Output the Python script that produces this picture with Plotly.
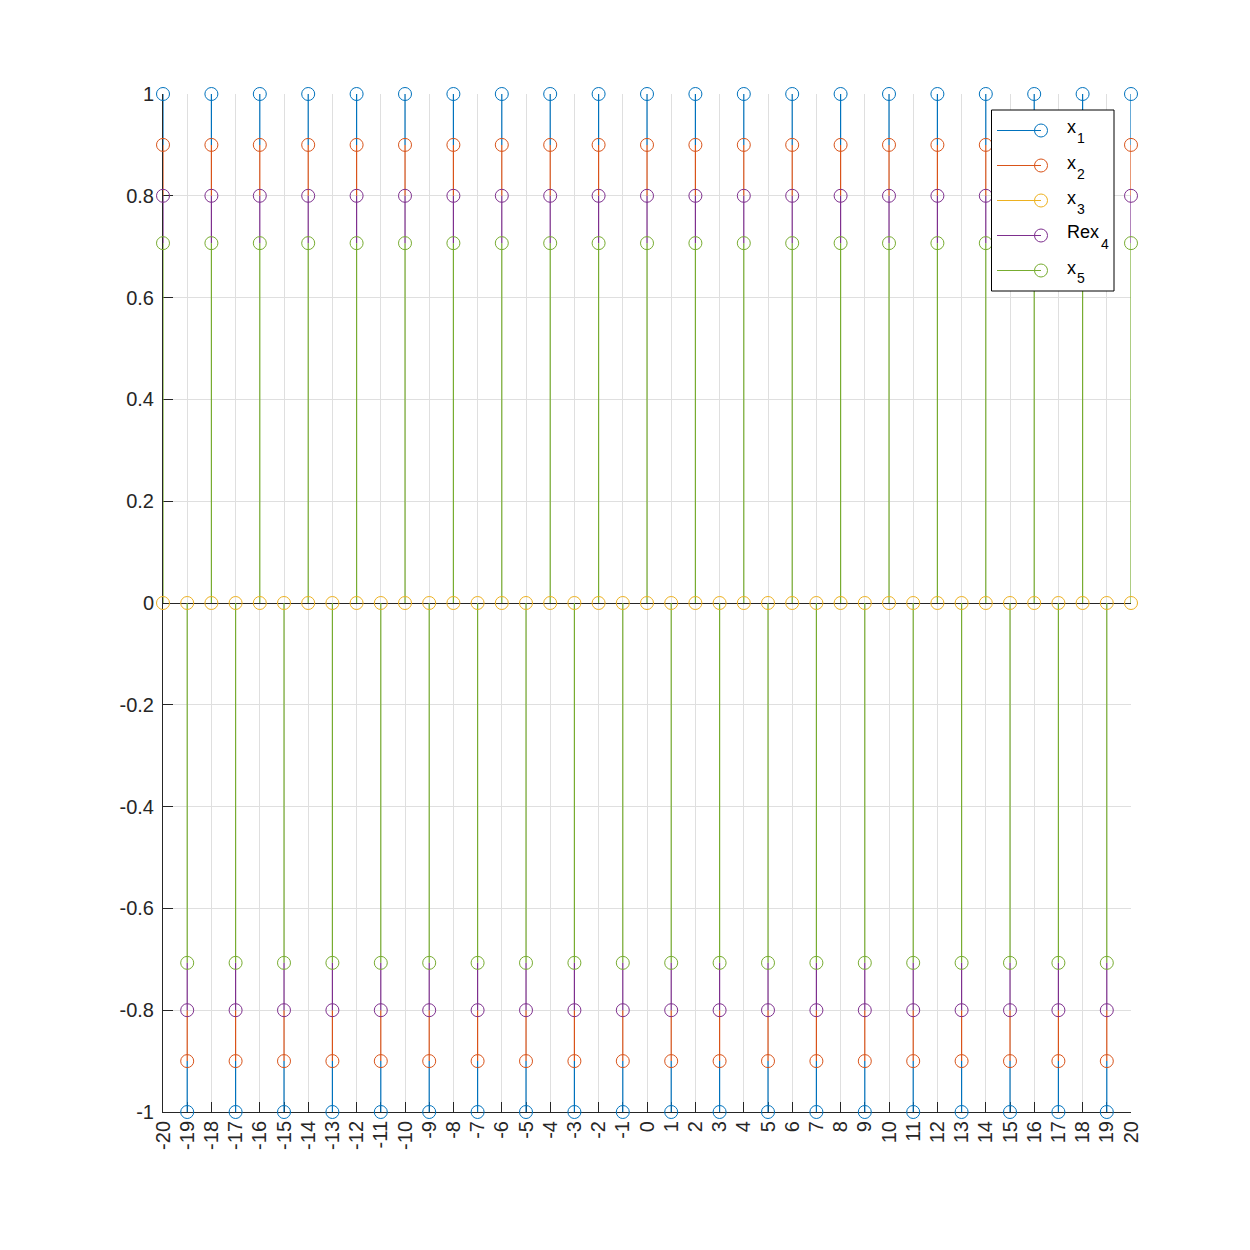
import plotly.graph_objects as go

# ---------------- data ----------------
n = [-20, -19, -18, -17, -16, -15, -14, -13, -12, -11,
     -10, -9, -8, -7, -6, -5, -4, -3, -2, -1,
     0, 1, 2, 3, 4, 5, 6, 7, 8, 9,
     10, 11, 12, 13, 14, 15, 16, 17, 18, 19, 20]

x1 = [1, -1, 1, -1, 1, -1, 1, -1, 1, -1,
      1, -1, 1, -1, 1, -1, 1, -1, 1, -1,
      1, -1, 1, -1, 1, -1, 1, -1, 1, -1,
      1, -1, 1, -1, 1, -1, 1, -1, 1, -1,
      1]
x2 = [0.9, -0.9, 0.9, -0.9, 0.9, -0.9, 0.9, -0.9, 0.9, -0.9,
      0.9, -0.9, 0.9, -0.9, 0.9, -0.9, 0.9, -0.9, 0.9, -0.9,
      0.9, -0.9, 0.9, -0.9, 0.9, -0.9, 0.9, -0.9, 0.9, -0.9,
      0.9, -0.9, 0.9, -0.9, 0.9, -0.9, 0.9, -0.9, 0.9, -0.9,
      0.9]
x3 = [0, 0, 0, 0, 0, 0, 0, 0, 0, 0,
      0, 0, 0, 0, 0, 0, 0, 0, 0, 0,
      0, 0, 0, 0, 0, 0, 0, 0, 0, 0,
      0, 0, 0, 0, 0, 0, 0, 0, 0, 0,
      0]
rex4 = [0.8, -0.8, 0.8, -0.8, 0.8, -0.8, 0.8, -0.8, 0.8, -0.8,
        0.8, -0.8, 0.8, -0.8, 0.8, -0.8, 0.8, -0.8, 0.8, -0.8,
        0.8, -0.8, 0.8, -0.8, 0.8, -0.8, 0.8, -0.8, 0.8, -0.8,
        0.8, -0.8, 0.8, -0.8, 0.8, -0.8, 0.8, -0.8, 0.8, -0.8,
        0.8]
x5 = [0.707, -0.707, 0.707, -0.707, 0.707, -0.707, 0.707, -0.707, 0.707, -0.707,
      0.707, -0.707, 0.707, -0.707, 0.707, -0.707, 0.707, -0.707, 0.707, -0.707,
      0.707, -0.707, 0.707, -0.707, 0.707, -0.707, 0.707, -0.707, 0.707, -0.707,
      0.707, -0.707, 0.707, -0.707, 0.707, -0.707, 0.707, -0.707, 0.707, -0.707,
      0.707]

legend_base = ["x", "x", "x", "Rex", "x"]
legend_sub = ["1", "2", "3", "4", "5"]
series_values = [x1, x2, x3, rex4, x5]
series_colors = ["#0072BD", "#D95319", "#EDB120", "#7E2F8E", "#77AC30"]

ytick_vals = [-1, -0.8, -0.6, -0.4, -0.2, 0, 0.2, 0.4, 0.6, 0.8, 1]
ytick_text = ["-1", "-0.8", "-0.6", "-0.4", "-0.2", "0", "0.2", "0.4", "0.6", "0.8", "1"]
xtick_text = [str(v) for v in n]

# ---------------- layout geometry ----------------
W, H = 1250, 1250
L, R, T, B = 163, 119, 94, 138
PW, PH = W - L - R, H - T - B
FONT = "Liberation Sans, Arial, Helvetica, sans-serif"
AXC = "#262626"
TICK_SIZE = 20


def px(xp):
    return (xp - L) / PW


def py(yp):
    return (H - B - yp) / PH


fig = go.Figure()

# stems: only the part of each stem not hidden by later-drawn stems
nser = len(series_values)
for i, (vals, col) in enumerate(zip(series_values, series_colors)):
    sx, sy = [], []
    for k, (xi, vi) in enumerate(zip(n, vals)):
        if vi == 0:
            continue
        later = [series_values[j][k] for j in range(i + 1, nser)]
        same = [abs(w) for w in later if w * vi > 0]
        if any(a >= abs(vi) for a in same):
            continue
        lo = max(same) if same else 0.0
        sgn = 1 if vi > 0 else -1
        sx += [xi, xi, None]
        sy += [sgn * lo, vi, None]
    fig.add_trace(go.Scatter(x=sx, y=sy, mode="lines",
                             line=dict(color=col, width=1.2),
                             showlegend=False, hoverinfo="skip",
                             cliponaxis=False))
for i, (vals, col) in enumerate(zip(series_values, series_colors)):
    fig.add_trace(go.Scatter(x=n, y=vals, mode="markers",
                             name=legend_base[i] + legend_sub[i],
                             marker=dict(symbol="circle-open", size=13,
                                         color=col, line=dict(width=1, color=col)),
                             showlegend=False, cliponaxis=False))

# ---------------- custom MATLAB-style legend ----------------
shapes = []
annotations = []
box_l, box_r, box_t, box_b = 991.5, 1114, 110, 291
shapes.append(dict(type="rect", xref="paper", yref="paper",
                   x0=px(box_l), x1=px(box_r), y0=py(box_b), y1=py(box_t),
                   line=dict(color="#000000", width=1), fillcolor="white",
                   layer="above"))
entry_y = [130.5, 165.5, 200.5, 235.5, 270.5]
sub_x = {"x": 1075, "Rex": 1099}
for base, sub, col, ey in zip(legend_base, legend_sub, series_colors, entry_y):
    shapes.append(dict(type="line", xref="paper", yref="paper",
                       x0=px(997), x1=px(1041), y0=py(ey), y1=py(ey),
                       line=dict(color=col, width=1), layer="above"))
    shapes.append(dict(type="circle", xref="paper", yref="paper",
                       xsizemode="pixel", ysizemode="pixel",
                       xanchor=px(1041), yanchor=py(ey),
                       x0=-6.5, x1=6.5, y0=-6.5, y1=6.5,
                       line=dict(color=col, width=1), fillcolor="rgba(0,0,0,0)",
                       layer="above"))
    annotations.append(dict(xref="paper", yref="paper", x=px(1065), y=py(ey - 3),
                            xanchor="left", yanchor="middle", showarrow=False,
                            text=base, font=dict(family=FONT, size=18, color="#000000")))
    annotations.append(dict(xref="paper", yref="paper", x=px(sub_x[base]), y=py(ey + 8),
                            xanchor="left", yanchor="middle", showarrow=False,
                            text=sub, font=dict(family=FONT, size=14, color="#000000")))

fig.update_layout(
    width=W, height=H,
    margin=dict(l=L, r=R, t=T, b=B, pad=0),
    paper_bgcolor="white", plot_bgcolor="white",
    showlegend=False,
    shapes=shapes, annotations=annotations,
    font=dict(family=FONT, size=TICK_SIZE, color=AXC),
    xaxis=dict(range=[-20, 20], tickmode="array", tickvals=n, ticktext=xtick_text,
               tickangle=-90, ticks="inside", ticklen=10, tickcolor=AXC,
               showgrid=True, gridcolor="#dfdfdf", gridwidth=1,
               showline=True, linecolor=AXC, linewidth=1,
               zeroline=False, layer="below traces",
               tickfont=dict(family=FONT, size=TICK_SIZE, color=AXC)),
    yaxis=dict(range=[-1, 1], tickmode="array", tickvals=ytick_vals, ticktext=ytick_text,
               ticks="inside", ticklen=10, tickcolor=AXC,
               showgrid=True, gridcolor="#dfdfdf", gridwidth=1,
               showline=True, linecolor=AXC, linewidth=1,
               zeroline=True, zerolinecolor=AXC, zerolinewidth=1,
               layer="below traces", ticklabelstandoff=4,
               tickfont=dict(family=FONT, size=TICK_SIZE, color=AXC)),
)

fig.write_html("out.html")
